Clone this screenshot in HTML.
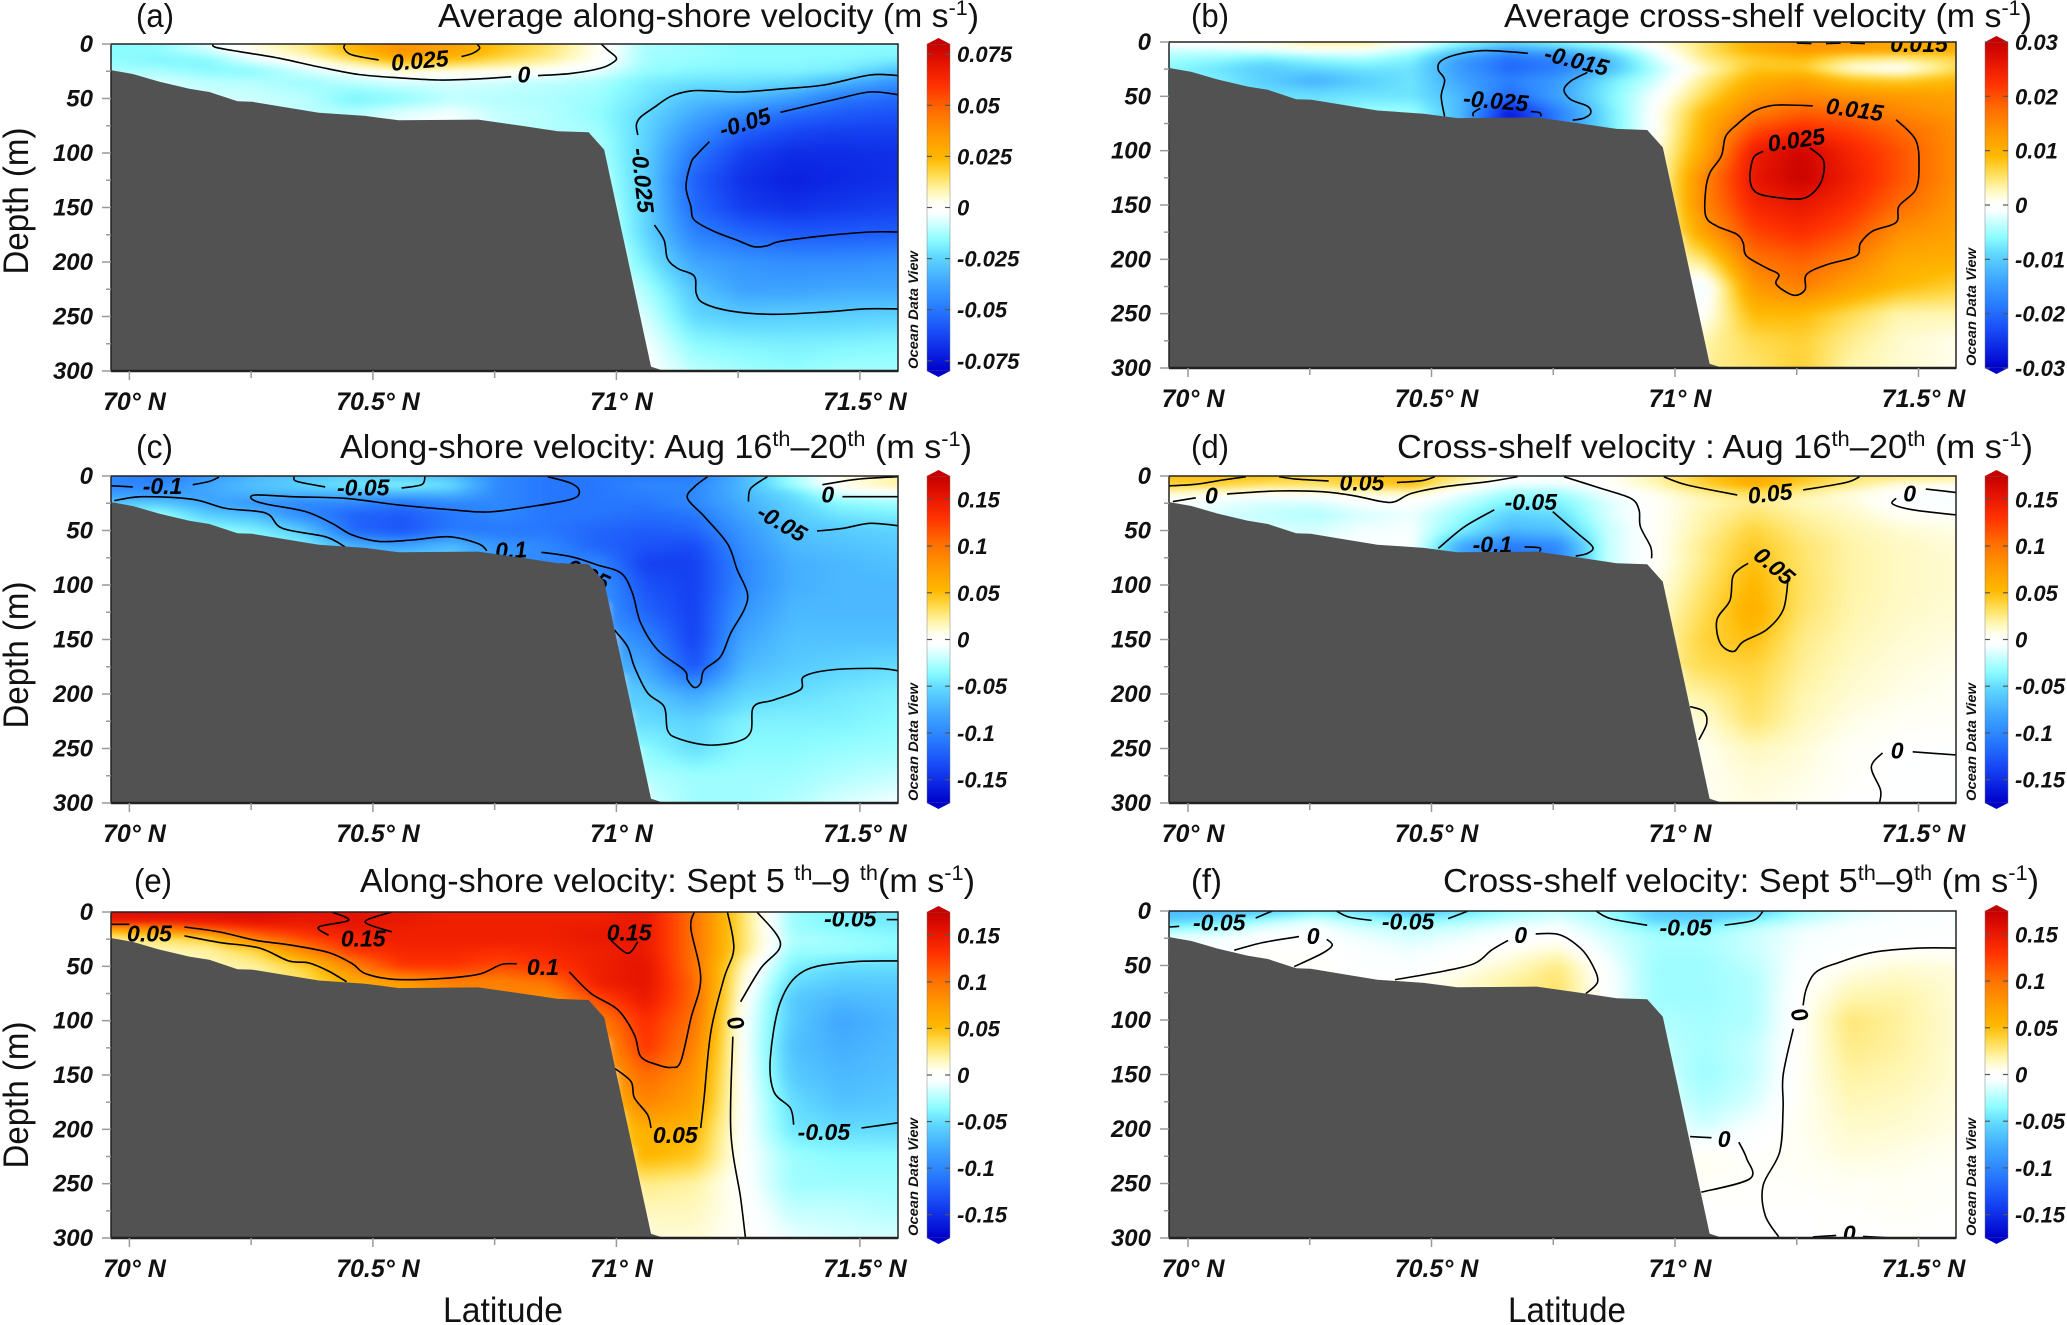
<!DOCTYPE html>
<html lang="en">
<head>
<meta charset="utf-8">
<title>Velocity sections across the shelf</title>
<style>
html,body{margin:0;padding:0;background:#fff;}
svg{display:block;}
text{font-family:"Liberation Sans",sans-serif;fill:#111;}
.title{font-size:33px;}
.plabel{font-size:33px;}
.axt{font-size:35px;}
.tick{font-weight:bold;font-style:italic;font-size:24px;}
.xtick{font-weight:bold;font-style:italic;font-size:25px;}
.cb{font-weight:bold;font-style:italic;font-size:22px;}
.cl{font-weight:bold;font-style:italic;font-size:23px;fill:#000;}
.odv{font-weight:bold;font-style:italic;font-size:14px;}
</style>
</head>
<body>
<svg id="chart" xmlns="http://www.w3.org/2000/svg" width="2067" height="1325" viewBox="0 0 2067 1325">
<defs>
<filter id="soft" x="-5%" y="-5%" width="110%" height="110%" color-interpolation-filters="sRGB"><feGaussianBlur stdDeviation="5 3"/></filter>
</defs>
<rect width="2067" height="1325" fill="#fff"/>
<g id="panels"></g>

<text class="plabel" x="136" y="27" textLength="38" lengthAdjust="spacingAndGlyphs">(a)</text>
<text class="plabel" x="1191" y="27" textLength="38" lengthAdjust="spacingAndGlyphs">(b)</text>
<text class="plabel" x="136" y="458" textLength="37" lengthAdjust="spacingAndGlyphs">(c)</text>
<text class="plabel" x="1191" y="458" textLength="38" lengthAdjust="spacingAndGlyphs">(d)</text>
<text class="plabel" x="134" y="892" textLength="38" lengthAdjust="spacingAndGlyphs">(e)</text>
<text class="plabel" x="1191" y="892" textLength="31" lengthAdjust="spacingAndGlyphs">(f)</text>

<text class="title" x="438" y="27" textLength="541" lengthAdjust="spacingAndGlyphs">Average along-shore velocity (m s<tspan dy="-12" font-size="21">-1</tspan><tspan dy="12">)</tspan></text>
<text class="title" x="1504" y="27" textLength="528" lengthAdjust="spacingAndGlyphs">Average cross-shelf velocity (m s<tspan dy="-12" font-size="21">-1</tspan><tspan dy="12">)</tspan></text>
<text class="title" x="340" y="458" textLength="632" lengthAdjust="spacingAndGlyphs">Along-shore velocity: Aug 16<tspan dy="-12" font-size="21">th</tspan><tspan dy="12">–20</tspan><tspan dy="-12" font-size="21">th</tspan><tspan dy="12"> (m s</tspan><tspan dy="-12" font-size="21">-1</tspan><tspan dy="12">)</tspan></text>
<text class="title" x="1397" y="458" textLength="636" lengthAdjust="spacingAndGlyphs">Cross-shelf velocity : Aug 16<tspan dy="-12" font-size="21">th</tspan><tspan dy="12">–20</tspan><tspan dy="-12" font-size="21">th</tspan><tspan dy="12"> (m s</tspan><tspan dy="-12" font-size="21">-1</tspan><tspan dy="12">)</tspan></text>
<text class="title" x="360" y="892" textLength="615" lengthAdjust="spacingAndGlyphs">Along-shore velocity: Sept 5 <tspan dy="-12" font-size="21">th</tspan><tspan dy="12">–9 </tspan><tspan dy="-12" font-size="21">th</tspan><tspan dy="12">(m s</tspan><tspan dy="-12" font-size="21">-1</tspan><tspan dy="12">)</tspan></text>
<text class="title" x="1443" y="892" textLength="596" lengthAdjust="spacingAndGlyphs">Cross-shelf velocity: Sept 5<tspan dy="-12" font-size="21">th</tspan><tspan dy="12">–9</tspan><tspan dy="-12" font-size="21">th</tspan><tspan dy="12"> (m s</tspan><tspan dy="-12" font-size="21">-1</tspan><tspan dy="12">)</tspan></text>

<text class="axt" text-anchor="middle" transform="translate(28,201) rotate(-90)" textLength="147" lengthAdjust="spacingAndGlyphs">Depth (m)</text>
<text class="axt" text-anchor="middle" transform="translate(28,655) rotate(-90)" textLength="147" lengthAdjust="spacingAndGlyphs">Depth (m)</text>
<text class="axt" text-anchor="middle" transform="translate(28,1095) rotate(-90)" textLength="147" lengthAdjust="spacingAndGlyphs">Depth (m)</text>
<text class="axt" x="443" y="1322" textLength="120" lengthAdjust="spacingAndGlyphs">Latitude</text>
<text class="axt" x="1508" y="1322" textLength="118" lengthAdjust="spacingAndGlyphs">Latitude</text>
</svg>

<script>
// ---- shared axes data ----
const latGrid = [69.96,70.06,70.16,70.26,70.36,70.46,70.56,70.66,70.76,70.86,70.96,71.06,71.16,71.26,71.36,71.46,71.58];
const depthGrid = [0,8,16,25,35,50,65,80,100,125,150,175,200,225,250,275,300];
const latTicks = [70,70.25,70.5,70.75,71,71.25,71.5];
const latTickLabels = {70:'70° N',70.5:'70.5° N',71:'71° N',71.5:'71.5° N'};
const depthTicks = [0,25,50,75,100,125,150,175,200,225,250,275,300];
const depthTickLabels = {0:'0',50:'50',100:'100',150:'150',200:'200',250:'250',300:'300'};
const bathyLat = [69.963,70.007,70.061,70.123,70.164,70.222,70.252,70.32,70.389,70.484,70.553,70.716,70.812,70.88,70.943,70.975,71.071,71.098];
const bathyDepth = [24,27.5,34.5,41,44,52.6,53,58,63,66,70,69.4,75.5,80,81,97,296,300];

// ---- colour scale ----
const scaleT = [1,.9,.75,.6,.45,.3,.2,.1,.03,0,-.04,-.12,-.2,-.3,-.45,-.6,-.75,-.9,-1];
const scaleC = ['#c40000','#e01000','#ff3000','#ff6a00','#ff9500','#ffb800','#ffdc50','#fff6b0','#fffff0','#ffffff','#f8ffff','#c0ffff','#8cfcff','#60d8ff','#40a8ff','#2a80ff','#1a50f8','#0a20e0','#0000c8'];

// ---- colourbar ticks (m/s) ----
const ticksA = ['0.075','0.05','0.025','0','-0.025','-0.05','-0.075'];
const ticksB = ['0.03','0.02','0.01','0','-0.01','-0.02','-0.03'];
const ticksC = ['0.15','0.1','0.05','0','-0.05','-0.1','-0.15'];

// ---- velocity fields in cm/s: one column per latGrid entry, values down depthGrid until the sea floor ----
const fieldA = [
[-1.6,-1.6,-1.5,-1.2,-1],
[-1.5,-1.6,-1.8,-1.2,-.7,-.6],
[-.5,-1,-1.8,-1.6,-1,-.7,-.6],
[.4,.2,-.7,-1.6,-1.1,-.8,-.8],
[1.2,.9,.1,-.8,-1.4,-1,-1],
[2.6,2.3,1.2,-.2,-1,-1.9,-1,-1],
[3.7,3.6,2.4,.4,-.7,-1.6,-.5,-.5],
[3.2,3,2.1,.3,-.7,-1,-.3,-.3],
[2.2,2.1,1.4,.2,-.8,-1.1,-.9,-.9],
[1.4,1.3,.9,-.1,-1,-1.2,-1.1,-1.1,-1.1],
[.2,.2,.1,-.5,-1.2,-1.4,-1.5,-1.3,-1.1,-.9,-.7,-.5,-.3,-.1,0,0,0],
[-1.2,-1.3,-1.3,-1.5,-1.9,-2.1,-2.4,-2.5,-2.6,-2.6,-2.5,-2.4,-1.9,-1.2,-.7,-.3,-.1],
[-1.4,-1.4,-1.5,-1.7,-2.2,-3,-3.6,-4.2,-5,-5.6,-5.4,-4.7,-3.7,-2.9,-2.4,-1.6,-1],
[-1.6,-1.6,-1.6,-1.8,-2.2,-3.2,-4.6,-5.6,-6.4,-6.8,-6.5,-5.4,-4.2,-3.8,-2.7,-1.8,-1.3],
[-1.6,-1.6,-1.6,-1.8,-2.4,-3.9,-5.4,-6.2,-6.9,-7.2,-6.8,-5.7,-4.4,-3.8,-2.6,-1.9,-1.5],
[-1.6,-1.6,-1.7,-2,-3.2,-5,-5.8,-6.4,-6.9,-7,-6.6,-5.7,-4.4,-3.6,-2.6,-1.8,-1.3],
[-1.6,-1.7,-2,-3,-4.3,-5.4,-6,-6.4,-6.8,-6.8,-6.4,-5.6,-4.2,-3.6,-2.5,-1.7,-1.3]];
const fieldB = [
[.1,-.3,-.5,-.6,-.6],
[.1,-.3,-.6,-.8,-.7,-.7],
[.2,-.2,-.8,-1,-1,-.8,-.8],
[.4,-.1,-.6,-.9,-1.3,-.8,-.8],
[.4,-.1,-.5,-.8,-1,-.8,-.5],
[.1,-.4,-.7,-.8,-.8,-.8,-.5,-.5],
[-.5,-1,-1.5,-1.5,-1.4,-1.2,-1.2,-1.2],
[-.8,-1.5,-2,-2,-1.8,-2,-2.8,-2.8],
[-.6,-1.2,-1.8,-1.8,-1.5,-1.4,-1.8,-1.8],
[-.3,-.8,-1.2,-1.2,-.8,-.7,-.8,-.8,-.8],
[.1,-.1,-.3,-.4,-.3,-.1,0,0,.1,.1,.1,.1,.1,.1,0,0,0],
[.5,.5,.4,.2,.4,.6,.9,1,1.1,1.5,1.5,1.2,.5,-.2,0,.3,.4],
[1,1,.7,.8,1,1.3,1.6,2,2.5,2.6,2.4,2.1,1.7,1.3,.9,.6,.5],
[1.3,1.3,.8,.8,1.2,1.5,1.9,2.3,2.9,2.95,2.6,2.3,1.9,1.6,.9,.7,.7],
[1.3,1.2,.4,.2,.8,1.4,1.8,2.1,2.4,2.5,2.3,2,1.6,1.2,.6,.4,.3],
[1.1,1.1,.3,0,.7,1.3,1.5,1.8,2,2,1.8,1.4,1.1,.9,.3,.2,.2],
[1.1,1,.6,.6,.9,1.2,1.3,1.4,1.4,1.4,1.3,1.2,1,.7,.3,.1,.1]];
const fieldC = [
[-10,-10,-9,-6,-4],
[-11,-10,-9,-6,-3,-2],
[-9,-8,-8,-8,-6,-3,-2],
[-7,-6.5,-7,-9,-7,-4,-3,-3],
[-6.5,-5.5,-7,-10,-10,-6,-4,-3],
[-6,-4.5,-7,-10,-12,-12,-7,-7],
[-6,-4,-7,-11,-12.5,-13,-8,-5],
[-7,-5,-7,-10,-11,-11,-6.5,-6],
[-10,-10,-10,-10,-10,-11,-9,-9],
[-11,-11,-11,-11,-11,-11,-10,-10,-10],
[-11,-11,-11,-11,-11,-12,-12,-10,-9,-9,-8,-7,-6,-5,-4,-3,-2],
[-11,-10,-10.5,-11,-11.5,-12.5,-13,-14,-13,-12,-10,-8,-6,-5,-3.5,-2.5,-1.5],
[-11,-10,-10,-10,-11,-12,-13.5,-14,-14,-14,-14,-13,-8,-5.5,-5,-3,-3],
[-7,-7,-7,-7.5,-8,-9,-9.5,-10,-10,-9,-8,-7,-5.5,-4,-3.5,-3,-3],
[-3,-3,-5,-5.5,-6,-6.5,-7,-7.5,-7.5,-7,-6.5,-6,-5,-4,-3.5,-3,-2.5],
[.5,.5,-1.5,-3.5,-4.5,-6,-6.5,-7,-7,-7,-6.5,-5.5,-4.5,-4,-3.2,-2.5,-1.5],
[2,2,-.5,-3,-4,-5.5,-6,-6.5,-7,-7,-6.5,-5,-4,-3.5,-3,-2,-.8]];
const fieldD = [
[5,4,1,-.5,-.5],
[5,4,.5,-1,-1.5,-1.5],
[5,3,.2,-1.5,-2,-1.5,-1.5],
[4,3,.3,-1.5,-2.5,-1.5,-1,-1],
[5,4,.8,-.5,-1.5,-.8,-.3,-.3],
[5,5,1,-.2,-1,-.7,-.4,-.4],
[3,1,-1,-2,-3,-4,-8,-8],
[.2,-1,-3,-4,-5.5,-7,-11,-11],
[.1,-1,-3,-4,-5,-6.5,-10,-10],
[.2,.1,-.8,-1.5,-1.5,-2,-2,-2,-2],
[2,1.5,.5,.2,.2,.2,.2,.2,.5,1,1.5,2,1.5,1,.5,.3,.3],
[4.5,4,2,1.5,1.8,2,2.5,2.5,3,3.5,4,3.5,2,1,.5,.5,.5],
[6.5,6,3,2.5,3,4,4.5,5,5.5,6,5,4,3.5,3,1.5,1,.8],
[5,4,2,1.5,2,2.5,3,3,3.2,3,2.5,2.2,1.8,1.5,1,.8,.5],
[3,2.5,.8,1,1.3,1.7,1.9,1.9,1.9,1.8,1.6,1.3,1.1,.7,.3,.2,0],
[3,.8,-.2,-.2,.4,1.1,1.4,1.4,1.4,1.3,1.1,.9,.7,.3,0,-.1,-.1],
[2.5,.5,-.5,-.8,.2,.7,1,1.1,1.1,1,.8,.6,.4,.2,-.1,-.1,-.1]];
const fieldE = [
[16,15,6,2,2],
[16,15,8,3,1.5,1.5],
[16,15,11,4,2,1.5,1.5],
[16,15.5,13,9,4,2,2],
[15.5,15,14,12,9,4,3,3],
[15.5,15.5,15,14,13,9,6,6],
[15,15,14.5,14.5,14,13,7,7],
[14.5,14.5,14.5,14.5,14,13,9,9],
[14.5,14.5,14.5,14.5,13.5,12,9,9],
[14.5,14.5,14.5,14.5,14,13,10,8,8],
[14.5,14.5,15,15,14.5,14.5,14.5,12,9,7,6,4,3,2.5,2,1,1],
[15,15,15,15,15,15.5,15.5,15,13.5,13,10.5,9,6,5.5,2.5,1.5,1],
[10,10,10,10,10,10,10.5,10.5,10,9,8,7,5.5,4.5,2,1.5,1],
[3,3,3,3,3,1.5,.8,.3,-.3,-.3,-.3,-.2,-.2,-.2,-.1,.2,.2],
[-3,-3,-3,-2.5,-3,-4,-5,-6,-6,-6.5,-6,-5,-4.5,-3,-3,-2,-1],
[-4,-4,-3.5,-3,-3,-5,-6,-7,-8,-7.5,-7,-6.5,-5,-3.5,-3,-2,-1.5],
[-4.5,-4.5,-4,-3.5,-3.5,-5,-6,-6.5,-7,-6.8,-6.5,-6,-5.2,-3.5,-3,-2.5,-1.5]];
const fieldF = [
[-7,-6,-3,-1,-1],
[-7,-5,-2.5,-.8,-.4,-.4],
[-6,-3,-1,-.3,.1,.1,.1],
[-4,-1.5,-.5,-.2,.1,.2,.2],
[-5,-3,-1.5,-1,-.5,-.2,-.1],
[-6.5,-4,-2,-1.5,-1,-.5,.3,.3],
[-5,-3,-1.5,-1,-.4,.3,1,1],
[-3,-2,-.8,-.3,.3,1.2,2,2],
[-2,-1.2,-.5,.1,1,2.5,3,3],
[-3,-2.5,-2,-1.5,-1.2,-.5,-.3,-.3,-.3],
[-6,-5.5,-3.5,-2.8,-2.8,-3,-3,-3,-2.5,-2,-1.5,-1,-.7,-.3,.2,.2,.2],
[-6.5,-5.5,-3.5,-2.8,-2.8,-3,-3,-3,-2.8,-2.8,-3,-2.5,-1.5,.5,.2,0,0],
[-6,-4,-2,-1.8,-1.8,-2.2,-2.5,-2.5,-2.5,-2,-2,-1.5,-.5,.1,.1,0,0],
[-3,-2,-1,-.8,-.7,-.4,-.1,.1,.2,.3,.4,.4,.5,.4,.2,0,0],
[-1.5,-1,-.5,-.4,-.2,.5,1.2,1.8,2.8,2.5,2,1.6,1.2,.9,.4,.1,0],
[-.8,-.5,-.3,-.2,.2,1,1.5,1.9,2.1,2,1.7,1.4,1.1,.7,.4,.3,0],
[-.5,-.3,-.2,-.1,.2,.8,1,1,1,1,1,.8,.7,.4,.2,.1,0]];

// ---- contour segments as [latitude, depth] ----
const contoursA = [
[[70.171,0],[70.177,3],[70.225,7],[70.307,13],[70.389,21],[70.471,28],[70.553,31],[70.634,33],[70.716,32],[70.784,30]],
[[70.839,29],[70.907,27],[70.969,22],[70.996,16],[70.999,12],[70.982,5.5],[70.969,0]],
[[71.044,83.5],[71.041,74],[71.05,67],[71.078,58],[71.112,48],[71.153,43],[71.194,43],[71.255,44],[71.344,41],[71.426,37.6],[71.521,28.4],[71.578,29]],
[[71.078,166],[71.098,180],[71.105,197],[71.126,206],[71.16,213],[71.164,229],[71.18,238],[71.235,245],[71.317,248],[71.426,246],[71.508,243],[71.578,243]],
[[71.578,46.5],[71.521,44],[71.453,50.5],[71.337,62.7]],
[[71.191,89.6],[71.164,102],[71.153,109.5],[71.143,131],[71.153,149],[71.16,161.5],[71.201,172],[71.248,180],[71.282,186],[71.31,185],[71.337,181],[71.426,176],[71.521,172.5],[71.578,172.5]],
[[70.512,14.7],[70.457,10],[70.441,4],[70.443,0]],
[[70.714,0],[70.719,4],[70.705,8.5],[70.682,11.6]]];
const labelsA = [['0.025',70.596,15,-5],['0',70.81,28,0],['-0.05',71.264,72,-17],['-0.025',71.054,125,84]];

const contoursB = [
[[70.698,10.4],[70.657,8.9],[70.602,8],[70.548,12],[70.518,18],[70.514,25.7],[70.527,35],[70.52,50],[70.527,68.5]],
[[70.82,28],[70.786,36],[70.772,44],[70.786,53],[70.82,59],[70.827,65.4],[70.813,70],[70.79,72]],
[[70.6,61],[70.586,65],[70.586,68.5]],
[[70.704,64],[70.722,65],[70.725,68.5]],
[[71.283,58.7],[71.229,58],[71.195,58.7],[71.161,64],[71.127,76],[71.104,87],[71.095,105],[71.072,120],[71.063,136],[71.063,160],[71.086,169.4],[71.127,177],[71.14,185],[71.147,197],[71.188,208],[71.213,214],[71.208,223],[71.243,233],[71.267,228],[71.27,214],[71.311,205],[71.372,197],[71.381,185],[71.406,174],[71.454,166],[71.46,151],[71.494,136],[71.501,114.4],[71.494,90],[71.454,71.5]],
[[71.181,100.6],[71.161,106.7],[71.154,126.6],[71.168,138.8],[71.215,143.4],[71.263,144],[71.29,135.8],[71.304,123.5],[71.304,108],[71.277,97.5]],
[[71.25,1],[71.28,1.5]],[[71.31,1.5],[71.34,1]],[[71.36,1],[71.39,1.5]]];
const labelsB = [['-0.015',70.798,17,14],['-0.025',70.632,54,5],['0.015',71.369,62,8],['0.025',71.249,90,-8],['0.015',71.501,2,0]];

const contoursC = [
[[69.963,9],[70.007,10]],
[[70.13,8],[70.164,5],[70.184,1]],
[[70.338,.6],[70.344,5],[70.402,10]],
[[70.559,11],[70.6,8],[70.607,.6]],
[[70.859,.6],[70.907,6.7],[70.924,14.3],[70.907,21.4],[70.825,28],[70.737,33],[70.662,31],[70.553,26.6],[70.443,20.5],[70.334,19],[70.259,17.4],[70.252,21.4],[70.28,25.7],[70.362,32.7],[70.416,43.4],[70.457,54],[70.512,60],[70.58,58.7],[70.655,55.7],[70.716,62],[70.734,68.5]],
[[70.846,70],[70.907,74],[70.962,81.7],[71.01,89.3],[71.033,107.6],[71.05,135],[71.085,159.6],[71.139,178],[71.146,187],[71.16,194],[71.173,190],[71.18,178],[71.214,165.7],[71.235,144],[71.262,123],[71.269,107.6],[71.248,86],[71.228,62],[71.18,37],[71.146,20.5],[71.16,10],[71.187,.6]],
[[69.969,22.6],[70.027,19],[70.13,21.4],[70.198,29.7],[70.28,34],[70.314,48],[70.402,55.7],[70.443,65]],
[[70.996,141.3],[71.023,156.6],[71.037,175],[71.064,199],[71.098,211.6],[71.105,233],[71.126,240.7],[71.187,246.8],[71.248,243.7],[71.276,234.6],[71.282,211.6],[71.323,205.5],[71.378,196],[71.385,184],[71.439,178],[71.535,176.5],[71.578,178.6]],
[[71.31,.6],[71.276,11.3],[71.271,23.5]],
[[71.412,50.5],[71.466,48],[71.521,43.4],[71.578,45.6]],
[[71.423,8],[71.494,3],[71.578,.6]],
[[71.464,19],[71.578,19]]];
const labelsC = [['-0.1',70.068,9,0],['-0.05',70.48,10.4,0],['0.1',70.784,68,-3],['-0.05',70.934,89,25],['0',71.434,17,0],['-0.05',71.34,43,30]];

const contoursD = [
[[69.962,9],[70.016,7.6],[70.071,3.7],[70.119,.6]],
[[70.187,.6],[70.221,2.8],[70.289,4.6]],
[[70.429,6],[70.48,4.3],[70.507,.6]],
[[69.969,23.5],[70.016,20]],
[[70.08,16.5],[70.18,13.8],[70.275,14.4],[70.343,18.3],[70.398,23.5],[70.425,23.5],[70.459,16],[70.527,9.8],[70.616,5.2],[70.677,.6]],
[[70.772,.6],[70.847,11.3],[70.909,20.5],[70.926,31],[70.929,46.5],[70.95,65],[70.952,75.5]],
[[70.629,31],[70.568,46.5],[70.514,66.4]],
[[70.749,32.7],[70.8,52.6],[70.831,65],[70.82,71],[70.796,73.4]],
[[70.691,65],[70.722,66],[70.722,69.4]],
[[70.977,.6],[71.025,8.3],[71.128,17.4]],
[[71.263,12.8],[71.351,6],[71.379,.6]],
[[71.15,80],[71.12,91],[71.113,114],[71.086,132],[71.093,153.5],[71.12,161],[71.14,152],[71.188,141],[71.222,123],[71.232,95.4]],
[[71.515,12],[71.576,15]],
[[71.454,20.5],[71.447,25.7],[71.488,31],[71.578,35.8]],
[[71.031,211.6],[71.059,216],[71.065,227],[71.049,242]],
[[71.426,254],[71.403,267],[71.422,288],[71.42,300]],
[[71.488,253],[71.578,256]]];
const labelsD = [['0.05',70.357,6,0],['0',70.048,18,0],['-0.05',70.704,24,0],['-0.1',70.625,63,0],['0.05',71.195,16,-6],['0',71.482,16,0],['0.05',71.204,82.5,40],['0',71.456,252,0]];

const contoursE = [
[[69.963,11.3],[70,11.3]],
[[70.113,13.8],[70.184,18.3],[70.259,26],[70.334,30.6],[70.409,37.3],[70.457,47.4],[70.484,56.6],[70.539,61.8],[70.607,62],[70.675,60],[70.723,56.6],[70.764,48.3],[70.795,47.7]],
[[70.903,55],[70.948,75],[71.003,90],[71.037,113],[71.05,133],[71.085,140.7],[71.112,143],[71.132,137.6],[71.153,97.9],[71.173,61],[71.153,15.3],[71.16,0]],
[[70.113,22],[70.184,28],[70.266,33],[70.327,45],[70.368,46.8],[70.409,54.4],[70.446,64.2]],
[[70.996,143.7],[71.03,156],[71.037,171],[71.064,186.5],[71.071,198.8]],
[[71.173,198.8],[71.18,171],[71.194,110],[71.221,61],[71.241,33.6],[71.228,0]],
[[71.289,0],[71.337,29],[71.296,52],[71.255,82.6]],
[[71.239,114.7],[71.235,201.8],[71.255,263],[71.265,300]],
[[71.578,45],[71.48,46],[71.385,54.4],[71.337,82.6],[71.316,134.6],[71.323,165],[71.357,180.4],[71.364,195.7]],
[[71.503,198.8],[71.578,194]],
[[71.555,7],[71.578,7]],
[[70.416,0],[70.45,7.6],[70.389,13.8],[70.409,21.4]],
[[70.539,0],[70.484,9],[70.539,18.3]],
[[70.989,26],[71.023,38],[71.044,27.5]]];
const labelsE = [['0.05',70.041,20,0],['0.15',70.48,24.5,0],['0.1',70.849,50.5,0],['0.15',71.026,19,0],['0',71.245,102,70],['0.05',71.121,205,0],['-0.05',71.426,202.5,0],['-0.05',71.48,6,0]];

const contoursF = [
[[69.962,14.7],[69.982,14]],
[[70.139,6.4],[70.173,0]],
[[70.305,0],[70.33,5.5],[70.377,8.6]],
[[70.534,7],[70.575,0]],
[[70.838,0],[70.868,7],[70.943,13]],
[[71.102,13],[71.161,8.6],[71.181,0]],
[[70.095,36],[70.153,29],[70.228,23.5]],
[[70.285,26],[70.296,31.5],[70.275,39],[70.218,51]],
[[70.425,63],[70.527,55],[70.589,48],[70.623,36],[70.657,27]],
[[70.714,21],[70.763,21.7],[70.807,34.6],[70.831,50],[70.841,65],[70.817,75.8]],
[[71.578,34],[71.501,34],[71.406,38],[71.338,47],[71.29,56],[71.27,71],[71.263,86.5]],
[[71.243,108],[71.222,150.8],[71.222,181],[71.215,221],[71.181,251.7],[71.185,279],[71.213,299]],
[[71.031,207],[71.075,208]],
[[71.131,212],[71.147,227],[71.154,245.6],[71.054,258]],
[[71.283,299],[71.331,297.6]],
[[71.386,298.5],[71.447,300]]];
const labelsF = [['-0.05',70.064,10.7,0],['-0.05',70.452,9.5,0],['-0.05',71.022,15.3,0],['0',70.257,23,0],['0',70.683,22,0],['0',71.256,95,70],['0',71.101,209,0],['0',71.358,296,0]];

// ---- panel layout ----
const panels = [
 {id:'a',left:111,top:44,h:327,x70:129.4,field:fieldA,contours:contoursA,labels:labelsA,range:8,ticks:ticksA},
 {id:'b',left:1169,top:42,h:326,x70:1188,field:fieldB,contours:contoursB,labels:labelsB,range:3,ticks:ticksB},
 {id:'c',left:111,top:476,h:327,x70:129.4,field:fieldC,contours:contoursC,labels:labelsC,range:17.5,ticks:ticksC},
 {id:'d',left:1169,top:476,h:327,x70:1188,field:fieldD,contours:contoursD,labels:labelsD,range:17.5,ticks:ticksC},
 {id:'e',left:111,top:912,h:326,x70:129.4,field:fieldE,contours:contoursE,labels:labelsE,range:17.5,ticks:ticksC},
 {id:'f',left:1169,top:911,h:327,x70:1188,field:fieldF,contours:contoursF,labels:labelsF,range:17.5,ticks:ticksC}
];
const PLOT_W = 787, PX_PER_DEG = 487;
const NS = 'http://www.w3.org/2000/svg';

function el(tag, attrs, parent){
  const e = document.createElementNS(NS, tag);
  for (const k in attrs) e.setAttribute(k, attrs[k]);
  if (parent) parent.appendChild(e);
  return e;
}
function hexRgb(h){return [parseInt(h.slice(1,3),16),parseInt(h.slice(3,5),16),parseInt(h.slice(5,7),16)];}
function colorFor(t){
  t = Math.max(-1, Math.min(1, t));
  for (let i = 0; i < scaleT.length - 1; i++){
    if (t <= scaleT[i] && t >= scaleT[i+1]){
      const f = (scaleT[i] - t) / (scaleT[i] - scaleT[i+1] || 1);
      const a = hexRgb(scaleC[i]), b = hexRgb(scaleC[i+1]);
      return 'rgb(' + Math.round(a[0]+(b[0]-a[0])*f) + ',' + Math.round(a[1]+(b[1]-a[1])*f) + ',' + Math.round(a[2]+(b[2]-a[2])*f) + ')';
    }
  }
  return '#fff';
}
function locate(grid, v){
  if (v <= grid[0]) return [0, 0];
  const n = grid.length - 1;
  if (v >= grid[n]) return [n - 1, 1];
  for (let i = 0; i < n; i++) if (v <= grid[i+1]) return [i, (v - grid[i]) / (grid[i+1] - grid[i])];
  return [n - 1, 1];
}
function valueAt(field, lat, depth){
  const [i, fx] = locate(latGrid, lat), [j, fy] = locate(depthGrid, depth);
  const c0 = field[i], c1 = field[i+1];
  const g = (c, r) => c[Math.min(r, c.length - 1)];
  const a = g(c0,j) + (g(c0,j+1) - g(c0,j)) * fy;
  const b = g(c1,j) + (g(c1,j+1) - g(c1,j)) * fy;
  return a + (b - a) * fx;
}
function bathyAt(lat){
  if (lat <= bathyLat[0]) return bathyDepth[0];
  for (let i = 0; i < bathyLat.length - 1; i++){
    if (lat <= bathyLat[i+1]){
      return bathyDepth[i] + (bathyDepth[i+1] - bathyDepth[i]) * (lat - bathyLat[i]) / (bathyLat[i+1] - bathyLat[i]);
    }
  }
  return 300;
}
function smoothPath(pts){
  let d = 'M' + pts[0][0].toFixed(1) + ' ' + pts[0][1].toFixed(1);
  for (let i = 0; i < pts.length - 1; i++){
    const p0 = pts[Math.max(0, i-1)], p1 = pts[i], p2 = pts[i+1], p3 = pts[Math.min(pts.length-1, i+2)];
    const c1x = p1[0] + (p2[0]-p0[0])/6, c1y = p1[1] + (p2[1]-p0[1])/6;
    const c2x = p2[0] - (p3[0]-p1[0])/6, c2y = p2[1] - (p3[1]-p1[1])/6;
    d += 'C' + c1x.toFixed(1) + ' ' + c1y.toFixed(1) + ' ' + c2x.toFixed(1) + ' ' + c2y.toFixed(1) + ' ' + p2[0].toFixed(1) + ' ' + p2[1].toFixed(1);
  }
  return d;
}

const root = document.getElementById('panels');
const defs = document.querySelector('#chart defs');

// colourbar gradient built from the scale
const grad = el('linearGradient', {id:'cbGrad', x1:0, y1:0, x2:0, y2:1}, defs);
scaleT.forEach((t, i) => {
  el('stop', {offset:((1 - t) / 2 * 100).toFixed(1) + '%', 'stop-color':scaleC[i]}, grad);
});

panels.forEach(p => {
  const xS = lat => p.x70 + (lat - 70) * PX_PER_DEG;
  const yS = depth => p.top + depth * p.h / 300;
  const invX = x => 70 + (x - p.x70) / PX_PER_DEG;
  const invY = y => (y - p.top) * 300 / p.h;

  const g = el('g', {}, root);
  
  

  const clip = el('clipPath', {id:'clip-' + p.id}, defs);
  el('rect', {x:p.left, y:p.top, width:PLOT_W, height:p.h}, clip);

  const clipped = el('g', {'clip-path':'url(#clip-' + p.id + ')'}, g);
  
  

  // velocity field
  const heat = el('g', {filter:'url(#soft)'}, clipped);
  
  
  const cw = 8, ch = 6;
  for (let px = p.left - 16; px < p.left + PLOT_W + 16; px += cw){
    const lat = invX(px + cw/2);
    const floor = bathyAt(lat) + 20;
    for (let py = p.top - 12; py < p.top + p.h + 12; py += ch){
      const depth = invY(py + ch/2);
      if (depth > floor && depth > 0) continue;
      const v = valueAt(p.field, lat, Math.max(0, depth));
      const cell = el('rect', {x:px, y:py, width:cw + .6, height:ch + .6, fill:colorFor(v / p.range)}, heat);
      
      
    }
  }

  // contours
  p.contours.forEach(seg => {
    const line = el('path', {d:smoothPath(seg.map(q => [xS(q[0]), yS(q[1])])), fill:'none', stroke:'#000', 'stroke-width':1.6, 'stroke-linejoin':'round'}, clipped);
    
    
  });
  p.labels.forEach(l => {
    const x = xS(l[1]), y = yS(l[2]);
    const t = el('text', {class:'cl', 'text-anchor':'middle', transform:'translate(' + x.toFixed(1) + ',' + (y + 0).toFixed(1) + ') rotate(' + l[3] + ') translate(0,8)'}, clipped);
    t.textContent = l[0];
    
    
  });

  // bathymetry
  const floorPts = bathyLat.map((la, i) => xS(la).toFixed(1) + ',' + yS(bathyDepth[i]).toFixed(1));
  floorPts.push(xS(bathyLat[bathyLat.length-1]).toFixed(1) + ',' + yS(300).toFixed(1));
  floorPts.push(p.left + ',' + yS(300).toFixed(1));
  const sea = el('polygon', {points:floorPts.join(' '), fill:'#525252'}, clipped);
  
  

  // frame
  const frame = el('rect', {x:p.left, y:p.top, width:PLOT_W, height:p.h, fill:'none', stroke:'#222', 'stroke-width':1.5}, g);
  
  
  const base = el('line', {x1:p.left, x2:p.left + PLOT_W, y1:p.top + p.h, y2:p.top + p.h, stroke:'#222', 'stroke-width':2.5}, g);
  
  

  // y axis
  depthTicks.forEach(d => {
    const major = depthTickLabels[d] !== undefined;
    const y = yS(d);
    const tk = el('line', {x1:p.left - (major ? 9 : 5), x2:p.left, y1:y, y2:y, stroke:'#999', 'stroke-width':1.5}, g);
    
    
    if (major){
      const t = el('text', {class:'tick', x:p.left - 18, y:y + 8, 'text-anchor':'end'}, g);
      t.textContent = depthTickLabels[d];
      
      
    }
  });
  // x axis
  latTicks.forEach(la => {
    const major = latTickLabels[la] !== undefined;
    const x = xS(la);
    const tk = el('line', {x1:x, x2:x, y1:p.top + p.h, y2:p.top + p.h + (major ? 9 : 7), stroke:'#999', 'stroke-width':1.5}, g);
    
    
    if (major){
      const t = el('text', {class:'xtick', x:x + 5, y:p.top + p.h + 39, 'text-anchor':'middle'}, g);
      t.textContent = latTickLabels[la];
      
      
    }
  });

  // colourbar
  const bx = p.left + PLOT_W + 29, bw = 23, half = p.h / 2, cy = p.top + half;
  const cb = el('g', {}, g);
  
  
  el('rect', {x:bx, y:cy - half, width:bw, height:p.h, fill:'url(#cbGrad)', stroke:'rgba(120,120,120,.45)', 'stroke-width':1}, cb);
  el('polygon', {points:bx + ',' + (cy - half) + ' ' + (bx + bw/2) + ',' + (cy - half - 6) + ' ' + (bx + bw) + ',' + (cy - half), fill:scaleC[0]}, cb);
  el('polygon', {points:bx + ',' + (cy + half) + ' ' + (bx + bw/2) + ',' + (cy + half + 6) + ' ' + (bx + bw) + ',' + (cy + half), fill:scaleC[scaleC.length-1]}, cb);
  p.ticks.forEach(s => {
    const y = cy - parseFloat(s) * 100 / p.range * half;
    const t1 = el('line', {x1:bx, x2:bx + 5, y1:y, y2:y, stroke:'#555', 'stroke-width':1.2}, cb);
    
    
    const t2 = el('line', {x1:bx + bw - 5, x2:bx + bw, y1:y, y2:y, stroke:'#555', 'stroke-width':1.2}, cb);
    
    
    const t = el('text', {class:'cb', x:bx + bw + 7, y:y + 8}, cb);
    t.textContent = s;
    
    
  });
  const odv = el('text', {class:'odv', 'text-anchor':'start', textLength:118, lengthAdjust:'spacingAndGlyphs', transform:'translate(' + (bx - 9) + ',' + (p.top + p.h - 2) + ') rotate(-90)'}, g);
  odv.textContent = 'Ocean Data View';
  
  
});
</script>
</body>
</html>
